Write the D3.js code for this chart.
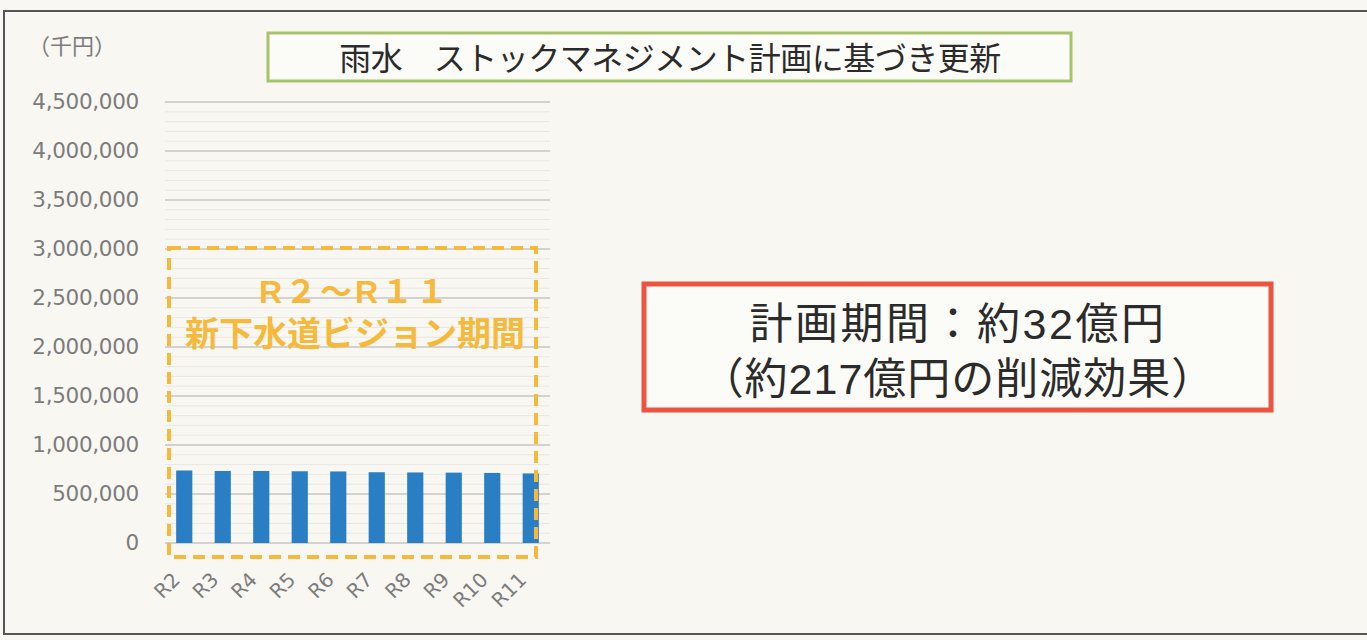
<!DOCTYPE html>
<html>
<head>
<meta charset="utf-8">
<script src="https://cdn.jsdelivr.net/npm/d3@7"></script>
<style>
  body { margin: 0; background: #f8f7f2; }
  svg { display: block; }
</style>
</head>
<body>
<div class="chart"></div>
<script>
var years = ["R2", "R3", "R4", "R5", "R6", "R7", "R8", "R9", "R10", "R11"];
// 千円
var costs = [740000, 735000, 735000, 732000, 730000, 722000, 720000, 718000, 715000, 710000];
var yTicks = [0, 500000, 1000000, 1500000, 2000000, 2500000, 3000000, 3500000, 4000000, 4500000];
var title = "雨水　ストックマネジメント計画に基づき更新";
var periodLines = ["R２～R１１", "新下水道ビジョン期間"];
var noteLines = ["計画期間：約32億円", "（約217億円の削減効果）"];

var width = 1367, height = 640;
var font = "'Noto Sans CJK JP', 'Noto Sans', sans-serif";
var numFont = "'DejaVu Sans', sans-serif";
// tighter line metrics for the two-line boxes, CJK glyphs fall back to Noto
var boxFont = "'Liberation Sans', 'Noto Sans CJK JP', sans-serif";

var svg = d3.select(".chart")
  .append("svg")
  .attr("width", width)
  .attr("height", height)
  .style("font-family", font);

svg.append("rect")
  .attr("width", width).attr("height", height)
  .attr("fill", "#f8f7f2");

// outer frame (left, top, bottom only)
svg.append("path")
  .attr("d", "M1367,11 L4,11 L4,634 L1367,634")
  .attr("fill", "none")
  .attr("stroke", "#555")
  .attr("stroke-width", 2);

var x = d3.scaleBand()
  .domain(years)
  .range([165, 550])
  .paddingInner(0.58)
  .paddingOuter(0.29);

var y = d3.scaleLinear()
  .domain([0, 4500000])
  .range([543, 102]);

// minor grid
svg.append("g")
  .selectAll("line")
  .data(d3.range(0, 4500001, 100000))
  .enter().append("line")
  .attr("x1", 165).attr("x2", 550)
  .attr("y1", function(d){ return y(d); })
  .attr("y2", function(d){ return y(d); })
  .attr("stroke", "#e8e7e2")
  .attr("stroke-width", 1);

// major grid
svg.append("g")
  .selectAll("line")
  .data(yTicks)
  .enter().append("line")
  .attr("x1", 165).attr("x2", 550)
  .attr("y1", function(d){ return y(d); })
  .attr("y2", function(d){ return y(d); })
  .attr("stroke", "#c9c8c4")
  .attr("stroke-width", 1.3);

// y axis labels
var yAxis = d3.axisLeft(y)
  .tickValues(yTicks)
  .tickFormat(d3.format(","))
  .tickSize(0)
  .tickPadding(0);

var yg = svg.append("g")
  .attr("transform", "translate(139,0)")
  .call(yAxis);
yg.select(".domain").remove();
yg.selectAll("text")
  .attr("fill", "#7c7c7c")
  .style("font-size", "21.5px")
  .style("font-family", numFont)
  .style("letter-spacing", "-0.3px");

svg.append("text")
  .attr("x", 28).attr("y", 54)
  .attr("fill", "#7c7c7c")
  .style("font-size", "22px")
  .text("（千円）");

// bars
svg.append("g")
  .selectAll("rect")
  .data(years)
  .enter().append("rect")
  .attr("x", function(d){ return x(d); })
  .attr("width", x.bandwidth())
  .attr("y", function(d, i){ return y(costs[i]); })
  .attr("height", function(d, i){ return y(0) - y(costs[i]); })
  .attr("fill", "#2a7ec4");

// x axis labels
var xAxis = d3.axisBottom(x).tickSize(0).tickPadding(0);
var xg = svg.append("g")
  .attr("transform", "translate(-3,581)")
  .call(xAxis);
xg.select(".domain").remove();
xg.selectAll("text")
  .attr("fill", "#7c7c7c")
  .style("font-size", "20px")
  .style("font-family", numFont)
  .attr("text-anchor", "end")
  .attr("y", 0)
  .attr("dy", "0")
  .attr("transform", "rotate(-45)");

// dashed period box
svg.append("rect")
  .attr("x", 169).attr("y", 248)
  .attr("width", 367).attr("height", 309)
  .attr("fill", "none")
  .attr("stroke", "#f6b93b")
  .attr("stroke-width", 4)
  .attr("stroke-dasharray", "12,7");

svg.append("g")
  .selectAll("text")
  .data(periodLines)
  .enter().append("text")
  .attr("x", 355)
  .attr("y", function(d, i){ return 303 + i * 43; })
  .attr("text-anchor", "middle")
  .attr("fill", "#f6b93b")
  .style("font-family", boxFont)
  .style("font-weight", "bold")
  .style("font-size", function(d, i){ return i == 0 ? "32px" : "34px"; })
  .style("letter-spacing", function(d, i){ return i == 0 ? "3px" : "0px"; })
  .text(function(d){ return d; });

// title box
svg.append("rect")
  .attr("x", 268).attr("y", 33)
  .attr("width", 803).attr("height", 48)
  .attr("fill", "#fbfbf8")
  .attr("stroke", "#a7c46a")
  .attr("stroke-width", 3);

svg.append("text")
  .attr("x", 670).attr("y", 70)
  .attr("text-anchor", "middle")
  .attr("fill", "#2b2b2b")
  .style("font-size", "32px")
  .style("letter-spacing", "-0.5px")
  .text(title);

// note box
svg.append("rect")
  .attr("x", 644).attr("y", 284)
  .attr("width", 627).attr("height", 126)
  .attr("fill", "#fbfbf8")
  .attr("stroke", "#ea5440")
  .attr("stroke-width", 5);

svg.append("g")
  .selectAll("text")
  .data(noteLines)
  .enter().append("text")
  .attr("x", 958)
  .attr("y", function(d, i){ return 339 + i * 55; })
  .attr("text-anchor", "middle")
  .attr("fill", "#2b2b2b")
  .style("font-family", boxFont)
  .style("font-size", "43px")
  .style("letter-spacing", function(d, i){ return i == 0 ? "2.5px" : "1px"; })
  .text(function(d){ return d; });
</script>
</body>
</html>
